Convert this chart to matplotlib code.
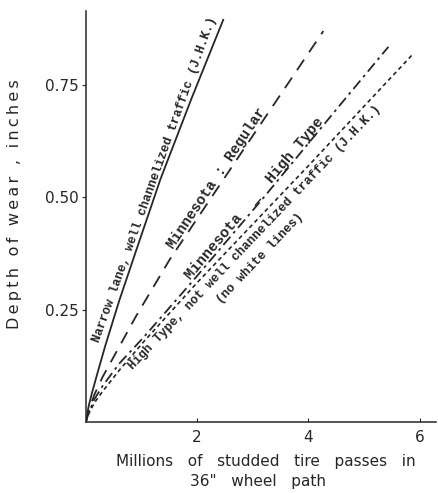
import numpy as np
import matplotlib.pyplot as plt

# depth of wear (inches) vs. millions of studded tire passes
narrow_x = [0, 0.05, 0.1, 0.2, 0.35, 0.6, 0.9, 1.34, 1.9, 2.47]
narrow_y = [0, 0.035, 0.06, 0.105, 0.17, 0.27, 0.38, 0.54, 0.72, 0.895]

regular_x = [0, 0.05, 0.15, 0.3, 0.5, 0.9, 1.5, 2.8, 4.27]
regular_y = [0, 0.025, 0.06, 0.1, 0.145, 0.235, 0.36, 0.6, 0.87]

hightype_x = [0, 0.05, 0.15, 0.3, 0.6, 1.05, 2.0, 3.2, 4.5, 5.44]
hightype_y = [0, 0.02, 0.05, 0.08, 0.13, 0.19, 0.325, 0.5, 0.695, 0.835]

notchan_x = [0, 0.05, 0.15, 0.3, 0.6, 1.05, 2.0, 4.0, 5.89]
notchan_y = [0, 0.018, 0.042, 0.068, 0.115, 0.18, 0.31, 0.57, 0.82]

x_ticks = [2, 4, 6]
y_ticks = [0.25, 0.50, 0.75]
y_ticklabels = ['0.25', '0.50', '0.75']

ink = '#262626'


def spaced(s):
    # open up the lettering a little with thin spaces
    return '\u2009'.join(s)


fig = plt.figure(figsize=(4.38, 4.93), dpi=100)
ax = fig.add_axes([0.196, 0.144, 0.80, 0.834])
ax.set_xlim(0, 6.3)
ax.set_ylim(0, 0.915)

ax.plot(narrow_x, narrow_y, color=ink, lw=1.3, ls='-')
ax.plot(regular_x, regular_y, color=ink, lw=1.3, ls=(0, (7, 5)))
ax.plot(hightype_x, hightype_y, color=ink, lw=1.3, ls=(0, (6, 2.5, 1.5, 2.5)))
ax.plot(notchan_x, notchan_y, color=ink, lw=1.2, ls=(0, (2.5, 2)))

for side in ['top', 'right']:
    ax.spines[side].set_visible(False)
for side in ['left', 'bottom']:
    ax.spines[side].set_color(ink)
    ax.spines[side].set_linewidth(1.1)

ax.set_xticks(x_ticks)
ax.set_xticklabels([str(t) for t in x_ticks])
ax.set_yticks(y_ticks)
ax.set_yticklabels(y_ticklabels)
ax.tick_params(axis='x', direction='in', length=3, pad=6, labelsize=11, colors=ink)
ax.tick_params(axis='y', direction='out', length=3, pad=2, labelsize=11, colors=ink)

fig.text(0.034, 0.586, spaced('Depth of wear , inches'), rotation=90,
         ha='center', va='center', fontsize=11.5, color=ink)
fig.text(0.606, 0.063, 'Millions   of   studded   tire   passes   in',
         ha='center', va='center', fontsize=11, color=ink)
fig.text(0.590, 0.023, '36"   wheel   path',
         ha='center', va='center', fontsize=11, color=ink)


def label_on(xs, ys, x_at, text, offset, size):
    # rotated label sitting along a curve, shifted off it by `offset` points
    y_at = np.interp(x_at, xs, ys)
    p1 = ax.transData.transform((x_at - 0.15, np.interp(x_at - 0.15, xs, ys)))
    p2 = ax.transData.transform((x_at + 0.15, np.interp(x_at + 0.15, xs, ys)))
    ang = np.arctan2(p2[1] - p1[1], p2[0] - p1[0])
    dx = -np.sin(ang) * offset
    dy = np.cos(ang) * offset
    ax.annotate(text, (x_at, y_at), xytext=(dx, dy), textcoords='offset points',
                rotation=np.degrees(ang), rotation_mode='anchor',
                ha='center', va='center', fontsize=size, color=ink,
                family='Liberation Mono', fontweight='bold')


label_on(narrow_x, narrow_y, 1.33, 'Narrow lane, well channelized traffic (J.H.K.)', 3.5, 9)
label_on(regular_x, regular_y, 2.45, 'Minnesota : Regular', 5, 10.5)
label_on(hightype_x, hightype_y, 3.12, 'Minnesota  _  High Type', 5, 10.8)
label_on(notchan_x, notchan_y, 2.9, 'High Type, not well channelized traffic (J.H.K.)', -8, 9)
label_on(notchan_x, notchan_y, 2.76, '(no white lines)', -21, 9)

fig.savefig('out.png', dpi=100)
